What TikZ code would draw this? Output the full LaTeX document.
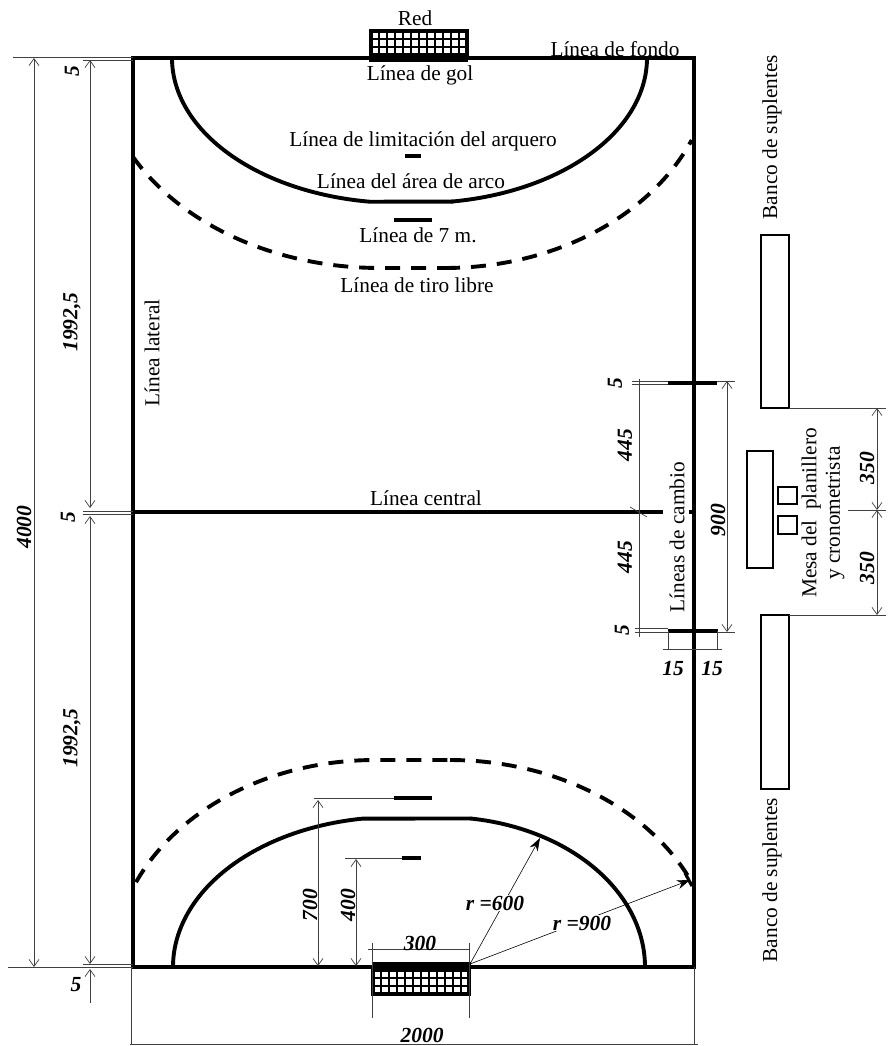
\documentclass[tikz,border=0pt]{standalone}
\usepackage{fontspec}
\setmainfont{Liberation Serif}
\usetikzlibrary{arrows.meta}
\tikzset{
  borde/.style={line width=3.6pt},
  arco/.style={line width=3.9pt,samples=80,smooth},
  guiones/.style={arco,dash pattern=on 15pt off 11pt},
  cota/.style={{Straight Barb[length=7pt,width=10pt]}-{Straight Barb[length=7pt,width=10pt]},line width=0.7pt,black!75},
  flecha/.style={-{Straight Barb[length=7pt,width=10pt]},line width=0.7pt,black!75},
  fina/.style={line width=0.7pt,black!75},
  radio/.style={-{Stealth[length=13pt,width=9pt]},line width=0.6pt},
  rotulo/.style={font=\fontsize{21.3}{23.5}\selectfont},
  medida/.style={font=\fontsize{21.5}{23}\selectfont\bfseries\itshape,inner sep=1pt}
}
% red del arco: esquina superior izquierda
\newcommand{\redarco}[2]{
  \foreach \i in {1,...,11}
    \draw[line width=2pt] ({#1+\i*96/12},#2) -- ++(0,24);
  \foreach \j in {1,2}
    \draw[line width=2pt] (#1,{#2+\j*24/3}) -- ++(96,0);
  \draw[line width=3.6pt] (#1,#2) rectangle ++(96,24);
}
\begin{document}
\begin{tikzpicture}[x=1pt,y=-1pt]
\useasboundingbox (0,0) rectangle (888,1046);
% cancha
\draw[borde] (133,58) rectangle (694,967);
\draw[borde] (133,512) -- (663,512);
\draw[borde] (689,512) -- (695,512);
\draw[line width=4.5pt] (668,383) -- (717,383);
\draw[line width=4.5pt] (668,631) -- (718,631);
\redarco{371}{31}
\draw[line width=6pt] (369,59.5) -- (468,59.5);
\redarco{373}{970}
\draw[line width=6pt] (372,965) -- (471,965);
% arcos
\draw[arco,domain=0:82.4] plot ({400-228*cos(\x)},{58+145*sin(\x)}) -- (453,201.6);
\draw[arco,domain=82:0] plot ({420+227*cos(\x)},{58+145*sin(\x)});
\draw[arco,domain=0:81.7] plot ({395-222*cos(\x)},{967-150*sin(\x)}) -- (471,818.5);
\draw[arco,domain=82:0] plot ({442+203*cos(\x)},{967-150*sin(\x)});
\draw[guiones,domain=28.1:90] plot ({380-280*cos(\x)},{58+210*sin(\x)}) -- (445,268);
\draw[guiones,domain=90:23] plot ({445+268*cos(\x)},{58+210*sin(\x)});
\draw[guiones,domain=24.2:90] plot ({375-262*cos(\x)},{967-207*sin(\x)}) -- (450,760);
\draw[guiones,domain=90:25] plot ({450+265*cos(\x)},{967-207*sin(\x)});
\draw[line width=3.6pt] (405,156) -- (421,156);
\draw[line width=3.6pt] (394,220) -- (432,220);
\draw[line width=3.6pt] (394,798) -- (432,798);
\draw[line width=3.6pt] (402,858) -- (421,858);
% bancos y mesa
\draw[line width=1.4pt] (761,235) rectangle (789,408);
\draw[line width=1.4pt] (761,615) rectangle (789,789);
\draw[line width=1.4pt] (747,451) rectangle (773,568);
\draw[line width=1.4pt] (778,487) rectangle (797,504);
\draw[line width=1.4pt] (778,516) rectangle (797,534);
% lineas de referencia
\draw[fina] (13,57) -- (133,57);
\draw[fina] (83,60) -- (133,60);
\draw[fina] (83,511) -- (133,511);
\draw[fina] (83,514) -- (133,514);
\draw[fina] (83,964) -- (133,964);
\draw[fina] (8,967) -- (133,967);
\draw[fina] (131,967) -- (131,1044);
\draw[fina] (694,967) -- (694,1044);
\draw[fina] (130,1044) -- (698,1044);
\draw[fina] (632,381) -- (668,381);
\draw[fina] (632,384) -- (668,384);
\draw[fina] (635,628) -- (668,628);
\draw[fina] (635,632) -- (668,632);
\draw[fina] (639,379) -- (639,637);
\draw[fina] (630,507) -- (647,517);
\draw[fina] (717,381) -- (735,381);
\draw[fina] (717,632) -- (735,632);
\draw[fina] (668,631) -- (668,650);
\draw[fina] (717,631) -- (717,650);
\draw[fina] (663,649) -- (722,649);
\draw[fina] (789,408) -- (886,408);
\draw[fina] (848,510) -- (886,510);
\draw[fina] (789,615) -- (886,615);
\draw[fina] (314,798) -- (394,798);
\draw[fina] (345,858) -- (402,858);
\draw[fina] (368,949) -- (470,949);
\draw[fina] (372,943) -- (372,1018);
\draw[fina] (469,943) -- (469,1018);
% cotas
\draw[cota] (34,58) -- (34,967);
\draw[cota] (90,60) -- (90,508);
\draw[cota] (90,516) -- (90,964);
\draw[flecha] (90,1003) -- (90,969);
\draw[cota] (727,381) -- (727,632);
\draw[cota] (877,408) -- (877,510);
\draw[cota] (877,510) -- (877,615);
\draw[cota] (318,800) -- (318,966);
\draw[cota] (356,859) -- (356,966);
\draw[radio] (470,964) -- (540,838);
\draw[radio] (470,964) -- (690,880);
\draw[line width=3.2pt] (685,873) -- (692,886);
% rotulos
\draw[rotulo] (415,18) node (red) {Red};
\draw[rotulo] (420,75) node (lineaGol) {Línea de gol};
\draw[rotulo] (615,49) node (lineaFondo) {Línea de fondo};
\draw[rotulo] (423,141) node (lineaArquero) {Línea de limitación del arquero};
\draw[rotulo] (411,181) node (lineaArea) {Línea del área de arco};
\draw[rotulo] (418,235) node (lineaSiete) {Línea de 7 m.};
\draw[rotulo] (417,285) node (lineaTiro) {Línea de tiro libre};
\draw[rotulo] (426,498) node (lineaCentral) {Línea central};
\draw[rotulo] (152,353) node[rotate=90] (lineaLateral) {Línea lateral};
\draw[rotulo] (677,537) node[rotate=90] (lineasCambio) {Líneas de cambio};
\draw[rotulo] (772,137) node[rotate=90] (bancoArriba) {Banco de suplentes};
\draw[rotulo] (772,880) node[rotate=90] (bancoAbajo) {Banco de suplentes};
\draw[rotulo,align=center] (823,513) node[rotate=90] (mesa) {Mesa del\ \ planillero \\ y cronometrista};
% medidas
\draw[medida] (24,527) node[rotate=90] (cuatroMil) {4000};
\draw[medida] (72,322) node[rotate=90] (cuartoArriba) {1992,5};
\draw[medida] (72,738) node[rotate=90] (cuartoAbajo) {1992,5};
\draw[medida] (72,71) node[rotate=90] (cincoA) {5};
\draw[medida] (68,517) node[rotate=90] (cincoB) {5};
\draw[medida] (76,985) node (cincoC) {5};
\draw[medida] (615,383) node[rotate=90] (cincoD) {5};
\draw[medida] (622,630) node[rotate=90] (cincoE) {5};
\draw[medida] (625,445) node[rotate=90] (medioA) {445};
\draw[medida] (625,557) node[rotate=90] (medioB) {445};
\draw[medida] (718,520) node[rotate=90] (novecientos) {900};
\draw[medida] (673,668) node (quinceA) {15};
\draw[medida] (712,668) node (quinceB) {15};
\draw[medida] (867,468) node[rotate=90] (mesaA) {350};
\draw[medida] (867,568) node[rotate=90] (mesaB) {350};
\draw[medida] (310,905) node[rotate=90] (setecientos) {700};
\draw[medida] (348,905) node[rotate=90] (cuatrocientos) {400};
\draw[medida] (420,943) node (trescientos) {300};
\draw[medida] (422,1035) node (dosMil) {2000};
\draw[medida] (495,903) node[fill=white] (radioA) {r =600};
\draw[medida] (582,923) node[fill=white] (radioB) {r =900};
\end{tikzpicture}
\end{document}
